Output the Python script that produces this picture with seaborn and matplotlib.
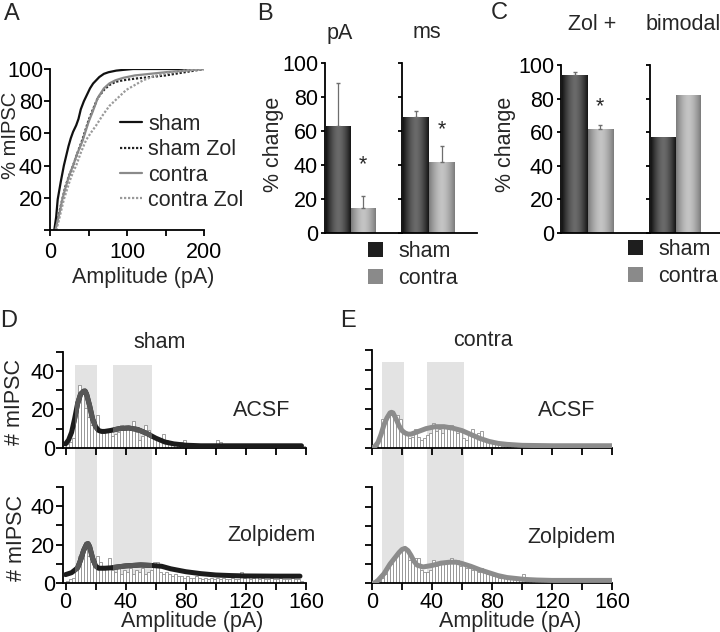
import numpy as np
import pandas as pd
import matplotlib
matplotlib.use("Agg")
import matplotlib.pyplot as plt
from matplotlib.colors import LinearSegmentedColormap
from matplotlib.patches import Patch, Rectangle
import seaborn as sns

sns.set_style("ticks")
plt.rcParams["font.family"] = ["Liberation Sans", "DejaVu Sans"]
FS = 15.5
plt.rcParams.update({
    "font.size": FS,
    "axes.linewidth": 1.3,
    "axes.edgecolor": "black",
    "xtick.color": "black",
    "ytick.color": "black",
    "xtick.major.width": 1.3,
    "ytick.major.width": 1.3,
    "xtick.major.size": 4,
    "ytick.major.size": 4,
    "xtick.major.pad": 2,
    "ytick.major.pad": 2,
    "xtick.labelsize": FS,
    "ytick.labelsize": FS,
})

# ---- A: cumulative amplitude distributions (% mIPSC vs pA)
sham_x = [5.6, 8, 10, 14, 18, 21, 24, 27, 30, 34, 37, 40, 44, 47, 52, 56, 60, 64, 70, 76, 86, 96, 108, 130, 160, 200]
sham_y = [0, 8, 19, 30, 40, 46, 52, 57, 61, 65, 69, 75, 80, 83, 88, 91, 93, 95, 97, 98, 99, 99.5, 100, 100, 100, 100]
sham_zol_x = [7, 10, 13, 16, 20, 25, 30, 35, 42, 46, 50, 55, 62, 70, 77, 85, 95, 110, 130, 150, 175, 200]
sham_zol_y = [0, 6, 13, 19, 27, 34, 40, 47, 56, 62, 68, 74, 82, 87, 90, 92, 93, 94, 95, 96, 98, 100]
contra_x = [7, 10, 13, 16, 20, 25, 30, 35, 42, 46, 50, 55, 62, 70, 77, 85, 95, 110, 130, 150, 175, 200]
contra_y = [0, 6, 12, 19, 26, 34, 40, 47, 55, 61, 67, 73, 82, 88, 91, 93, 94.5, 96, 97, 98, 99, 100]
contra_zol_x = [8, 11, 14, 18, 22, 26, 30, 34, 40, 47, 54, 60, 68, 77, 88, 99, 110, 121, 135, 151, 175, 200]
contra_zol_y = [0, 5, 11, 19, 25, 31, 36, 40, 48, 56, 61, 65, 71, 77, 82, 87, 90, 93, 95.5, 97.5, 99, 100]

# ---- B / C: % change bars
GROUPS = ["sham", "contra"]
b_pa = [63, 15]
b_pa_err = [25, 7]
b_ms = [68, 42]
b_ms_err = [4, 9]
c_zol = [94, 62]
c_zol_err = [2, 2.5]
c_bimodal = [57, 82]

# ---- D / E: amplitude histograms (2 pA bins, 0-160 pA) and fits
BIN_W = 2
sham_acsf = [2, 3, 5, 20, 33, 30, 21, 16, 12, 11, 17, 9, 8, 9, 8, 6, 7, 8, 12, 10,
             11, 9, 14, 8, 4, 6, 12, 9, 6, 5, 4, 5, 7, 4, 3, 3, 2, 2, 3, 4,
             2, 2, 1, 1, 1, 1, 1, 1, 1, 2, 4, 3, 1, 1, 1, 1, 0, 1, 1, 1,
             1, 1, 0, 1, 1, 1, 1, 0, 1, 1, 1, 1, 0, 1, 1, 1, 1, 1, 0, 1]
sham_zol = [1, 2, 3, 8, 14, 16, 18, 14, 11, 9, 14, 11, 9, 8, 13, 7, 6, 8, 5, 7,
            6, 8, 5, 7, 6, 8, 5, 6, 7, 11, 11, 6, 5, 6, 5, 4, 5, 4, 4, 3,
            4, 3, 3, 4, 3, 2, 3, 2, 3, 2, 3, 2, 3, 2, 2, 3, 2, 2, 6, 3,
            4, 2, 3, 5, 2, 3, 2, 2, 3, 2, 2, 3, 2, 2, 2, 3, 2, 2, 1, 0]
contra_acsf = [0, 1, 4, 15, 15, 17, 17, 16, 17, 15, 8, 7, 5, 6, 10, 6, 4, 5, 7, 8,
               13, 9, 10, 8, 12, 12, 12, 10, 8, 9, 5, 4, 7, 10, 6, 8, 9, 5, 4, 3,
               2, 2, 2, 1, 1, 1, 1, 1, 1, 1, 1, 1, 1, 0, 1, 1, 1, 1, 1, 1,
               1, 0, 1, 1, 1, 1, 1, 1, 0, 1, 1, 1, 1, 1, 1, 0, 1, 1, 1, 1]
contra_zol = [0, 0, 1, 3, 5, 8, 10, 13, 15, 17, 18, 18, 12, 11, 13, 13, 7, 6, 6, 7,
              12, 9, 10, 10, 11, 12, 13, 11, 12, 9, 10, 8, 8, 7, 8, 6, 8, 6, 5, 6,
              4, 4, 3, 3, 3, 2, 2, 2, 2, 2, 5, 2, 1, 1, 1, 1, 1, 1, 1, 1,
              1, 1, 1, 1, 1, 1, 1, 1, 1, 1, 1, 1, 1, 1, 1, 1, 1, 1, 1, 1]

fit_sham_acsf_x = [0, 2, 4, 6, 8, 10, 12, 13, 14, 16, 18, 20, 22, 24, 26, 30, 36, 42, 48, 54, 60, 66, 72, 80, 90, 100, 120, 140, 157]
fit_sham_acsf_y = [2, 4, 8, 15, 23, 28, 29.5, 29.6, 28, 22, 15, 11, 9, 8.5, 8.5, 9, 10, 10.3, 9.5, 7.5, 5, 3, 2, 1.3, 1, 1, 1, 1, 1]
fit_sham_zol_x = [0, 4, 8, 10, 12, 14, 15, 16, 18, 20, 22, 26, 30, 40, 50, 58, 64, 70, 80, 90, 100, 110, 120, 140, 156]
fit_sham_zol_y = [4.5, 5.5, 8, 12, 17, 20.3, 20.5, 19, 13, 9, 7.8, 7.8, 8, 9, 9.5, 9.2, 8.8, 7.5, 6, 5, 4.3, 4, 3.8, 3.7, 3.7]
fit_contra_acsf_x = [0, 2, 4, 6, 8, 10, 12, 13, 14, 16, 18, 20, 22, 24, 26, 30, 36, 42, 48, 54, 60, 66, 72, 78, 84, 90, 100, 120, 140, 160]
fit_contra_acsf_y = [0, 1, 3, 7, 12, 15.5, 18, 18.3, 18, 15, 11.5, 9, 7.8, 7.2, 7.2, 8.3, 10, 11, 11, 10.2, 9, 7, 5, 3.5, 2.5, 2, 1.5, 1.3, 1.3, 1.3]
fit_contra_zol_x = [0, 2, 4, 8, 12, 16, 18, 20, 22, 24, 26, 28, 30, 34, 40, 46, 52, 56, 60, 66, 72, 78, 84, 90, 96, 102, 110, 120, 140, 160]
fit_contra_zol_y = [0, 0.3, 1.5, 5, 10, 14, 16, 17.6, 18.2, 17, 14.5, 11.5, 9.5, 8.5, 9.3, 10.5, 11, 11, 10.3, 8.8, 7, 5.5, 4, 3, 2.5, 2, 1.7, 1.5, 1.5, 1.5]

# shaded amplitude windows (pA)
sham_windows = [(6.3, 21.1), (31.7, 57.8)]
contra_windows = [(6.4, 21.3), (36.9, 61.3)]

W, H = 720, 632
fig = plt.figure(figsize=(W / 100, H / 100), dpi=100)


def px_axes(l, t, r, b):
    ax = fig.add_axes([l / W, 1 - b / H, (r - l) / W, (b - t) / H])
    ax.set_facecolor("none")
    return ax


def ftext(x, y, s, **kw):
    kw.setdefault("ha", "center")
    kw.setdefault("va", "center")
    fig.text(x / W, 1 - y / H, s, **kw)


def clean(ax):
    sns.despine(ax=ax)
    ax.set_xlabel("")
    ax.set_ylabel("")


# ================= A
axA = px_axes(50, 69, 204, 230)
curves = [
    (sham_x, sham_y, "#111111", "-", "sham"),
    (sham_zol_x, sham_zol_y, "#222222", (0, (1, 0.8)), "sham Zol"),
    (contra_x, contra_y, "#8a8a8a", "-", "contra"),
    (contra_zol_x, contra_zol_y, "#9a9a9a", (0, (1, 0.8)), "contra Zol"),
]
for cx, cy, col, ls, lab in curves:
    sns.lineplot(x=cx, y=cy, color=col, linestyle=ls, lw=1.6, label=lab,
                 estimator=None, sort=False, ax=axA)
axA.set_xlim(0, 200)
axA.set_ylim(0, 100)
axA.set_xticks([0, 50, 100, 150, 200], ["0", "", "100", "", "200"])
axA.set_yticks([0, 20, 40, 60, 80, 100], ["", "20", "40", "60", "80", "100"])
axA.tick_params(axis="x", pad=5)
axA.tick_params(axis="y", pad=1)
clean(axA)
axA.legend(loc="upper left", bbox_to_anchor=(120 / W, 1 - 114 / H),
           bbox_transform=fig.transFigure, frameon=False, handlelength=1.0,
           handletextpad=0.3, labelspacing=0.2, borderpad=0, borderaxespad=0,
           fontsize=FS)
ftext(11, 135, "% mIPSC", rotation=90, fontsize=14.5)
ftext(143, 277, "Amplitude (pA)")
ftext(4, 3, "A", ha="left", va="top", fontsize=17)

# ================= B / C
SHADES = {"sham": ("#151515", "#6a6a6a"), "contra": ("#7c7c7c", "#c4c4c4")}


def bars(ax_l, ax_r, bar_l, unit, top, bottom, vals, errs=None, star_gap=None, labels=True):
    ax = px_axes(ax_l, top, ax_r, bottom)
    sns.barplot(x=GROUPS, y=vals, hue=GROUPS, palette=[SHADES[g][0] for g in GROUPS],
                width=1, legend=False, errorbar=None, ax=ax)
    prof = 1 - np.abs(np.linspace(-1, 1, 64)) ** 1.6
    for patch, g in zip(ax.patches, GROUPS):
        x0, w, h = patch.get_x(), patch.get_width(), patch.get_height()
        cmap = LinearSegmentedColormap.from_list(g, SHADES[g])
        im = ax.imshow(prof[None, :], extent=(x0, x0 + w, 0, h), cmap=cmap,
                       aspect="auto", zorder=2)
        im.set_clip_path(patch)
    if errs is not None:
        ax.errorbar(range(len(vals)), vals, yerr=[np.zeros(len(vals)), errs],
                    fmt="none", ecolor="#6e6e6e", elinewidth=0.9, capsize=1.5, zorder=3)
    if star_gap is not None:
        ax.text(1, vals[1] + errs[1] + star_gap, "*", ha="center", va="center", fontsize=FS)
    left = -0.5 - (bar_l - ax_l) / unit
    ax.set_xlim(left, left + (ax_r - ax_l) / unit)
    ax.set_ylim(0, 100)
    ax.set_yticks([0, 20, 40, 60, 80, 100])
    ax.tick_params(axis="x", bottom=False, labelbottom=False)
    ax.tick_params(axis="y", length=3, labelleft=labels)
    clean(ax)
    return ax


bars(325, 402, 326, 24.5, 63, 233, b_pa, b_pa_err, star_gap=18)
bars(402, 477, 403, 26, 63, 233, b_ms, b_ms_err, star_gap=10, labels=False)
bars(561, 650, 562, 25.5, 65, 233, c_zol, c_zol_err, star_gap=10.5)
bars(650, 722, 651, 24.5, 65, 233, c_bimodal, labels=False)

ftext(340, 33, "pA")
ftext(427, 33, "ms")
ftext(592, 25, "Zol +")
ftext(683, 25, "bimodal")
ftext(273, 144, "% change", rotation=90)
ftext(505, 144, "% change", rotation=90)
ftext(257, 3, "B", ha="left", va="top", fontsize=17)
ftext(491, 2, "C", ha="left", va="top", fontsize=17)

handles = [Patch(facecolor="#1e1e1e", edgecolor="none"), Patch(facecolor="#8a8a8a", edgecolor="none")]
for lx, ly in [(368, 241), (628, 239)]:
    fig.legend(handles, GROUPS, loc="upper left", bbox_to_anchor=(lx / W, 1 - ly / H),
               frameon=False, handlelength=0.7, handleheight=0.7, handletextpad=0.7,
               labelspacing=0.3, borderpad=0, borderaxespad=0, fontsize=FS)

# ================= D / E
edges = np.arange(0, 160 + BIN_W, BIN_W)
centers = edges[:-1] + BIN_W / 2


def hist_panel(l, t, r, b, x0, counts, fx, fy, line_col, bottom_row=False, ylabels=True):
    ax = px_axes(l, t, r, b)
    hist_df = pd.DataFrame({"amp": centers, "n": counts})
    sns.histplot(data=hist_df, x="amp", weights="n", binwidth=BIN_W, binrange=(0, 160),
                 color="white", edgecolor="#8f8f8f", linewidth=0.6, alpha=1, ax=ax, zorder=1)
    sns.lineplot(x=fx, y=fy, color=line_col, lw=3.6, estimator=None, sort=False,
                 ax=ax, zorder=3, solid_capstyle="round")
    ax.set_xlim(x0, 160)
    ax.set_ylim(0, 50)
    ax.set_xticks(range(0, 161, 20))
    if bottom_row:
        ax.set_xticklabels(["0", "", "40", "", "80", "", "120", "", "160"])
    else:
        ax.tick_params(axis="x", labelbottom=False)
    ax.set_yticks(range(0, 51, 10))
    if ylabels:
        ax.set_yticklabels(["0", "", "20", "", "40", ""])
    else:
        ax.tick_params(axis="y", labelleft=False)
    ax.tick_params(axis="both", length=5, pad=1)
    clean(ax)
    return ax


def windows(ax_top, spans, top_px, bot_px, t, b):
    # shaded windows run from the top panel down through the bottom panel
    h = b - t
    for lo, hi in spans:
        ax_top.axvspan(lo, hi, ymin=(b - bot_px) / h, ymax=(b - top_px) / h,
                       color="#e3e3e3", lw=0, zorder=0, clip_on=False)


# D (sham)
d_top = hist_panel(63.3, 352, 306, 447.7, -1.5, sham_acsf, fit_sham_acsf_x, fit_sham_acsf_y, "#1c1c1c")
d_bot = hist_panel(63.3, 486.7, 306, 583.3, -1.5, sham_zol, fit_sham_zol_x, fit_sham_zol_y, "#1c1c1c", bottom_row=True)
windows(d_top, sham_windows, 365, 583.3, 352, 447.7)
# fitted line is lighter inside the windows
for ax, fx, fy in [(d_top, fit_sham_acsf_x, fit_sham_acsf_y), (d_bot, fit_sham_zol_x, fit_sham_zol_y)]:
    for lo, hi in sham_windows:
        clip = Rectangle((lo, 0), hi - lo, 50, transform=ax.transData, visible=False)
        ax.add_patch(clip)
        ln, = ax.plot(fx, fy, color="#575757", lw=3.6, zorder=4, solid_capstyle="butt")
        ln.set_clip_path(clip)

# E (contra)
e_top = hist_panel(371.7, 350, 612, 448.3, -0.2, contra_acsf, fit_contra_acsf_x, fit_contra_acsf_y, "#8c8c8c", ylabels=False)
e_bot = hist_panel(371.7, 487.3, 612, 583.3, -0.2, contra_zol, fit_contra_zol_x, fit_contra_zol_y, "#8c8c8c", bottom_row=True, ylabels=False)
windows(e_top, contra_windows, 361.7, 583.3, 350, 448.3)

ftext(160, 343, "sham")
ftext(483, 341, "contra")
ftext(262, 410, "ACSF")
ftext(272, 535, "Zolpidem")
ftext(567, 410, "ACSF")
ftext(572, 537, "Zolpidem")
ftext(15, 402, "# mIPSC", rotation=90)
ftext(17, 538, "# mIPSC", rotation=90)
ftext(192, 622, "Amplitude (pA)")
ftext(510, 622, "Amplitude (pA)")
ftext(0, 310, "D", ha="left", va="top", fontsize=17)
ftext(340, 310, "E", ha="left", va="top", fontsize=17)

fig.savefig("out.png", dpi=100)
